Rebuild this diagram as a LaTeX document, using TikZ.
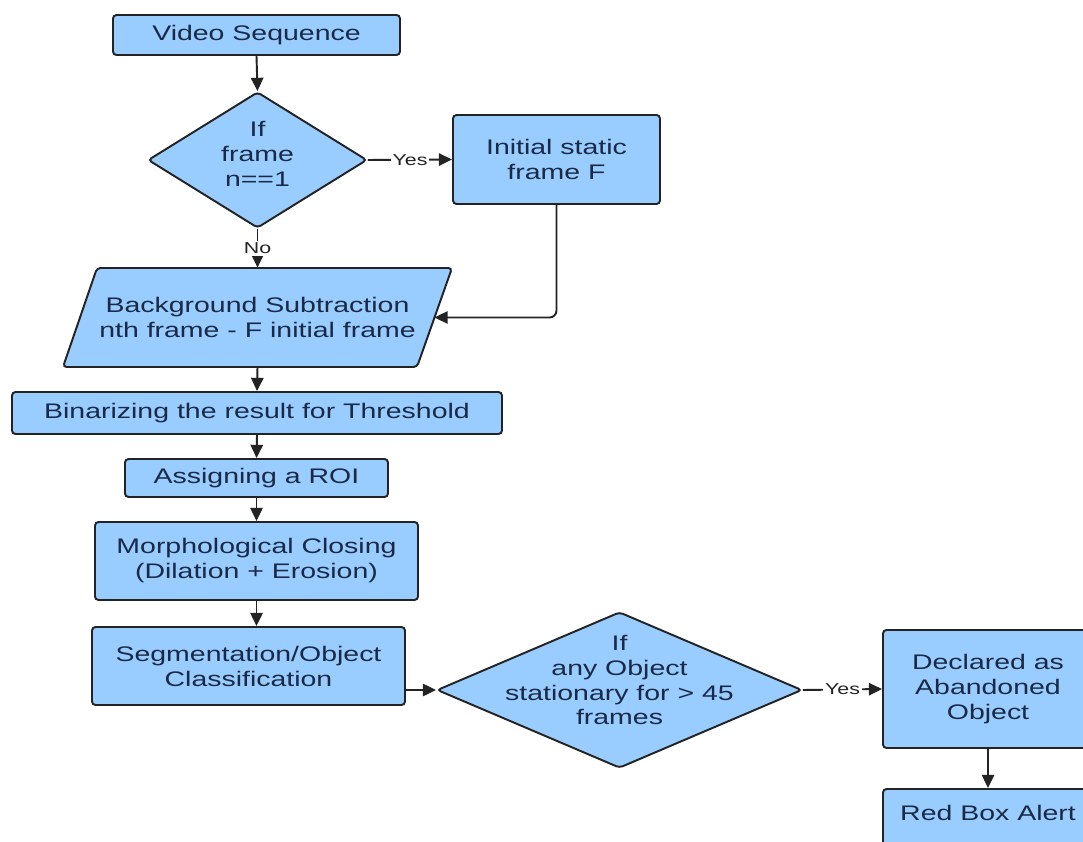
\documentclass[tikz,border=0pt]{standalone}
\usepackage{fontspec}
\setmainfont{Liberation Sans}[FakeStretch=1.35]
\usetikzlibrary{shapes.geometric,arrows.meta}
\definecolor{boxfill}{RGB}{153,204,255}
\definecolor{boxtext}{RGB}{26,42,70}
\definecolor{edgecol}{RGB}{35,35,35}
\begin{document}
\begin{tikzpicture}[
  box/.style={draw=edgecol, line width=1.1pt, fill=boxfill, rounded corners=2pt, text=boxtext, align=center, font=\fontsize{12}{14.2}\selectfont, inner sep=0pt},
  txt/.style={text=boxtext, align=center, font=\fontsize{12}{14.2}\selectfont, inner sep=0pt},
  link/.style={draw=edgecol, line width=1.1pt, -{Triangle[length=7.5pt,width=7pt]}},
  lab/.style={fill=white, inner sep=1pt, font=\fontsize{9}{10}\selectfont, text=edgecol}
]
\useasboundingbox (0,0) rectangle (21.66,-16.84);

% nodes
\node[box, minimum width=5.74cm, minimum height=0.80cm] (vs) at (5.13,-0.70) {Video Sequence};
\node[box, shape=diamond, minimum width=4.38cm, minimum height=2.72cm] (d1) at (5.15,-3.20) {};
\node[txt] (d1t) at (5.15,-3.08) {If\\frame\\n==1};
\node[box, minimum width=4.14cm, minimum height=1.78cm] (init) at (11.13,-3.19) {Initial static\\frame F};
% parallelogram (background subtraction)
\coordinate (bgTL) at (1.94,-5.36);
\coordinate (bgTR) at (9.04,-5.36);
\coordinate (bgBR) at (8.34,-7.34);
\coordinate (bgBL) at (1.26,-7.34);
\draw[box] (bgTL) -- (bgTR) -- (bgBR) -- (bgBL) -- cycle;
\node[txt, minimum width=7.10cm, minimum height=1.98cm] (bg) at (5.15,-6.35) {Background Subtraction\\nth frame - F initial frame};
\coordinate (bgE) at (8.69,-6.35);
\node[box, minimum width=9.80cm, minimum height=0.84cm] (bin) at (5.14,-8.26) {Binarizing the result for Threshold};
\node[box, minimum width=5.26cm, minimum height=0.76cm] (roi) at (5.13,-9.56) {Assigning a ROI};
\node[box, minimum width=6.46cm, minimum height=1.56cm] (morph) at (5.13,-11.22) {Morphological Closing\\(Dilation + Erosion)};
\node[box, minimum width=6.26cm, minimum height=1.56cm] (seg) at (4.97,-13.32) {Segmentation/Object\\Classification};
\node[box, shape=diamond, minimum width=7.30cm, minimum height=3.12cm] (d2) at (12.39,-13.80) {};
\node[txt] (d2t) at (12.39,-13.60) {If\\any Object\\stationary for > 45\\frames};
\node[box, minimum width=4.20cm, minimum height=2.36cm] (decl) at (19.76,-13.78) {Declared as\\Abandoned\\Object};
\node[box, minimum width=4.20cm, minimum height=1.20cm] (red) at (19.76,-16.38) {};
\node[txt] (redt) at (19.76,-16.26) {Red Box Alert};

% connectors
\draw[link] (vs.south) -- (d1.north);
\draw[link] (d1.east) -- node[lab] {Yes} (init.west);
\draw[link] (d1.south) -- node[lab] {No} (bg.north);
\draw[link, rounded corners=4pt] (init.south) |- (bgE);
\draw[link] (bg.south) -- (bin.north);
\draw[link] (bin.south) -- (roi.north);
\draw[link] (roi.south) -- (morph.north);
\draw[link] (morph.south) -- (morph.south |- seg.north);
\draw[link] (seg.east |- d2.west) -- (d2.west);
\draw[link] (d2.east) -- node[lab] {Yes} (decl.west);
\draw[link] (decl.south) -- (red.north);
\end{tikzpicture}
\end{document}
